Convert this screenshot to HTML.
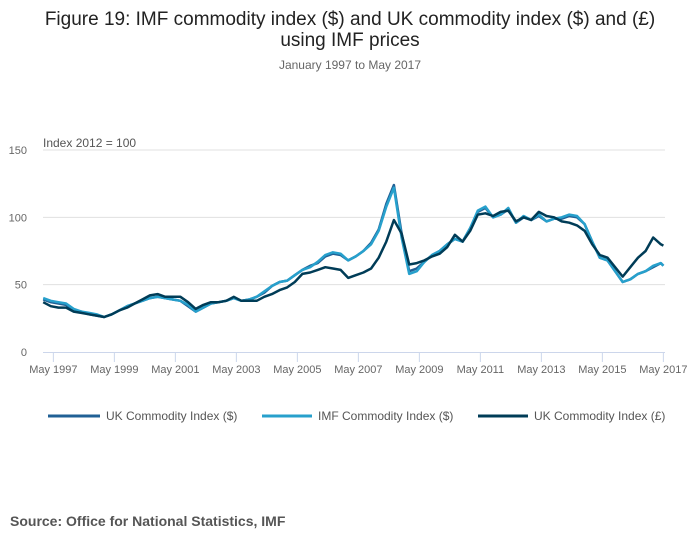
<!DOCTYPE html>
<html><head><meta charset="utf-8"><style>
body{margin:0;background:#fff;font-family:"Liberation Sans",sans-serif;}
svg text{font-family:"Liberation Sans",sans-serif;}
</style></head><body>
<svg id="c" width="700" height="549" viewBox="0 0 700 549">
<text x="350" y="25" text-anchor="middle" font-size="19" fill="#222">Figure 19: IMF commodity index ($) and UK commodity index ($) and (£)</text>
<text x="350" y="46" text-anchor="middle" font-size="19" fill="#222">using IMF prices</text>
<text x="350" y="69" text-anchor="middle" font-size="12" fill="#666">January 1997 to May 2017</text>
<text x="43" y="147" font-size="12" fill="#555">Index 2012 = 100</text>
<g id="grid"></g><g id="xaxis"></g><g id="series"></g>
<g>
<g><line x1="48" y1="416" x2="100" y2="416" stroke="#206095" stroke-width="3"/><text x="106" y="420" font-size="12" fill="#555">UK Commodity Index ($)</text></g>
<g><line x1="262" y1="416" x2="312" y2="416" stroke="#27a0cc" stroke-width="3"/><text x="318" y="420" font-size="12" fill="#555">IMF Commodity Index ($)</text></g>
<g><line x1="478" y1="416" x2="528" y2="416" stroke="#003c57" stroke-width="3"/><text x="534" y="420" font-size="12" fill="#555">UK Commodity Index (£)</text></g>
</g>
<text x="10" y="526" font-size="14" font-weight="bold" fill="#555">Source: Office for National Statistics, IMF</text>
</svg>
<script>
// months since Jan 1997 (quarterly samples + May 2017)
const months = [0,3,6,9,12,15,18,21,24,27,30,33,36,39,42,45,48,51,54,57,60,63,66,69,72,75,78,81,84,87,90,93,96,99,102,105,108,111,114,117,120,123,126,129,132,135,138,141,144,147,150,153,156,159,162,165,168,171,174,177,180,183,186,189,192,195,198,201,204,207,210,213,216,219,222,225,228,231,234,237,240,243,244];
const imfUsd = [40,38,37,36,32,30,29,28,26,28,31,34,36,38,40,41,40,39,38,35,30,33,36,37,38,40,38,39,41,45,49,52,53,57,61,63,67,72,74,73,68,71,75,80,90,108,122,85,58,60,67,72,75,80,84,82,92,105,108,100,102,107,96,101,98,102,97,99,100,102,101,95,82,70,68,60,52,54,58,60,64,66,64];
const ukUsd = [39,37,36,35,31,30,28,27,26,28,31,34,36,38,40,41,40,39,38,34,30,33,36,37,38,40,38,39,41,44,49,52,53,57,61,64,66,71,73,72,68,71,75,81,91,110,124,88,60,62,67,72,75,80,84,82,92,104,107,100,102,106,96,100,98,101,97,99,99,101,100,95,82,70,68,60,52,54,58,60,63,66,64];
const ukGbp = [37,34,33,33,30,29,28,27,26,28,31,33,36,39,42,43,41,41,41,37,32,35,37,37,38,41,38,38,38,41,43,46,48,52,58,59,61,63,62,61,55,57,59,62,70,82,98,88,65,66,68,71,73,78,87,82,90,102,103,101,104,105,97,100,98,104,101,100,97,96,94,90,80,72,70,63,56,63,70,75,85,80,79];
const yTicks = [0,50,100,150];
const xTickLabels = ["May 1997","May 1999","May 2001","May 2003","May 2005","May 2007","May 2009","May 2011","May 2013","May 2015","May 2017"];
const xTickMonths = [4,28,52,76,100,124,148,172,196,220,244];

const NS="http://www.w3.org/2000/svg";
const x = m => 43.2 + m*30.5/12;
const y = v => 352 - v*202/150;
const grid=document.getElementById('grid'), xa=document.getElementById('xaxis'), ser=document.getElementById('series');
function mk(tag,attrs,parent){const e=document.createElementNS(NS,tag);for(const k in attrs)e.setAttribute(k,attrs[k]);parent.appendChild(e);return e;}
yTicks.forEach(v=>{
  if(v>0){const l=mk('line',{x1:43,x2:665,y1:y(v),y2:y(v),stroke:'#e0e0e0','stroke-width':1},grid);
  
  }
  const t=mk('text',{x:27,y:y(v)+4,'text-anchor':'end','font-size':11,fill:'#666'},grid);t.textContent=v;
  
  
});
const ax=mk('line',{x1:43,x2:665,y1:352.5,y2:352.5,stroke:'#ccd6eb','stroke-width':1},xa);


xTickMonths.forEach((m,i)=>{
  mk('line',{x1:x(m),x2:x(m),y1:352,y2:362,stroke:'#ccd6eb'},xa);
  const t=mk('text',{x:x(m),y:373,'text-anchor':'middle','font-size':11,fill:'#666'},xa);t.textContent=xTickLabels[i];
  
  
});
function draw(vals,color,name){
  const d=vals.map((v,i)=>(i?'L':'M')+x(months[i]).toFixed(1)+','+y(v).toFixed(1)).join('');
  const p=mk('path',{d:d,fill:'none',stroke:color,'stroke-width':2.5,'stroke-linejoin':'round'},ser);
  
  
}
draw(ukUsd,'#206095','uk-usd-line');
draw(imfUsd,'#27a0cc','imf-usd-line');
draw(ukGbp,'#003c57','uk-gbp-line');
</script>
</body></html>
